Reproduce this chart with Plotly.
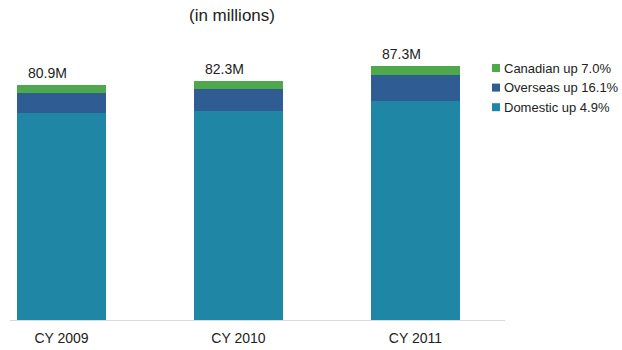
import plotly.graph_objects as go

# Visitor volume by calendar year (millions)
years = ["CY 2009", "CY 2010", "CY 2011"]
domestic = [71.4, 71.9, 75.5]
overseas = [6.7, 7.5, 8.7]
canadian = [2.8, 2.9, 3.1]

series_names = ["Domestic up 4.9%", "Overseas up 16.1%", "Canadian up 7.0%"]
series_colors = ["#1f86a6", "#2f5c92", "#4fa84b"]
series_values = [domestic, overseas, canadian]

totals = [round(d + o + c, 1) for d, o, c in zip(domestic, overseas, canadian)]

TEXT = "#222222"
FONT = "Liberation Sans, Arial, sans-serif"

fig = go.Figure()
for name, color, vals in zip(series_names, series_colors, series_values):
    fig.add_trace(go.Bar(x=years, y=vals, name=name, marker=dict(color=color, line=dict(width=0)),
                         showlegend=False, hoverinfo="x+y+name"))

# Total labels above each stack
for yr, tot in zip(years, totals):
    fig.add_annotation(x=yr, y=tot, text=f"{tot:.1f}M", showarrow=False,
                       xshift=-14, yshift=12, font=dict(size=14, color=TEXT, family=FONT))

# Legend drawn as swatches + labels, top entry first
legend_rows = list(zip(series_names, series_colors))[::-1]
row_y = [0.9, 0.83, 0.76]
for (name, color), ry in zip(legend_rows, row_y):
    fig.add_shape(type="rect", xref="paper", yref="paper",
                  xsizemode="pixel", ysizemode="pixel",
                  xanchor=0.9818, yanchor=ry, x0=-4, x1=4, y0=-4, y1=4,
                  fillcolor=color, line=dict(width=0))
    fig.add_annotation(xref="paper", yref="paper", x=0.9939, y=ry, text=name,
                       showarrow=False, xanchor="left", yanchor="middle",
                       font=dict(size=13, color=TEXT, family=FONT))

fig.add_annotation(xref="paper", yref="paper", x=0.4485, y=1.089, text="(in millions)",
                   showarrow=False, xanchor="center", yanchor="middle",
                   font=dict(size=17, color=TEXT, family=FONT))

fig.update_layout(
    width=622, height=350,
    margin=dict(l=10, r=117, t=40, b=30, autoexpand=False),
    paper_bgcolor="white", plot_bgcolor="white",
    barmode="stack", bargap=0.497,
    font=dict(family=FONT, color=TEXT, size=14),
)
fig.update_xaxes(range=[-0.291, 2.506], showline=True, linecolor="#d9d9d9", linewidth=1,
                 showgrid=False, zeroline=False, ticks="outside", ticklen=5, automargin=False,
                 tickcolor="rgba(0,0,0,0)", tickfont=dict(size=14, color=TEXT, family=FONT))
fig.update_yaxes(range=[0, 96.4], visible=False, showgrid=False, zeroline=False, automargin=False)

fig.write_html("out.html")
